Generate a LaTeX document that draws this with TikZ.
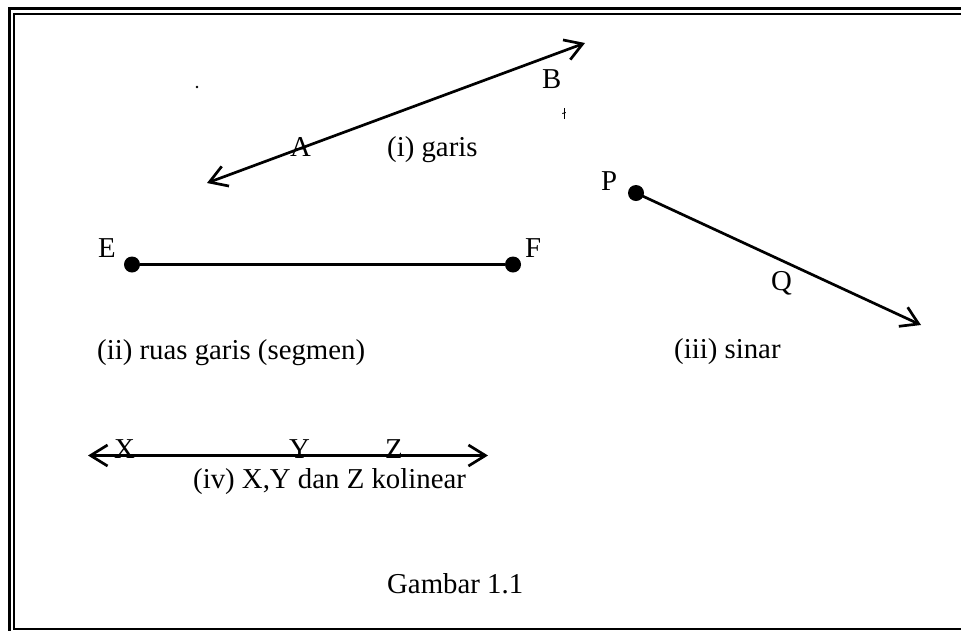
\documentclass[tikz,border=0pt]{standalone}
\usepackage{fontspec}
\setmainfont{Liberation Serif}
\usetikzlibrary{arrows.meta}
\begin{document}
\begin{tikzpicture}[x=1pt,y=-1pt,
  lbl/.style={anchor=base west, inner sep=0pt, font=\fontsize{28.8}{33}\selectfont},
  ln/.style={line width=2.7pt},
  dotnode/.style={circle, fill=black, inner sep=0pt, minimum size=16pt},
  frameouter/.style={line width=2.6pt},
  frameinner/.style={line width=2pt}]
\useasboundingbox (0,0) rectangle (961,630);
\clip (0,0) rectangle (961,630);
% frame
\draw[frameouter] (9.7,640) -- (9.7,8.5) -- (975,8.5);
\draw[frameinner] (975,628.7) -- (14.3,628.7) -- (14.3,13.8) -- (975,13.8);
% stray dot and tick
\fill (197,87) circle (1.4pt);
\coordinate (t1) at (564,108);
\coordinate (t2) at (564,119);
\draw[line width=0.9pt] (t1) -- (t2);
\draw[line width=0.9pt] (562.3,113.5) -- (565.7,112.5);
% (i) garis
\coordinate (i1) at (207,183);
\coordinate (i2) at (585,43);
\draw[ln, {Straight Barb[length=17pt,width=21pt]}-{Straight Barb[length=17pt,width=21pt]}] (i1) -- (i2);
\node[lbl] (A) at (290,156) {A};
\node[lbl] (B) at (542,88) {B};
\node[lbl] (cap1) at (387,156) {(i) garis};
% (ii) segmen
\node[dotnode] (Ed) at (132,264.5) {};
\node[dotnode] (Fd) at (513,264.5) {};
\draw[line width=2.2pt] (Ed) -- (Fd);
\node[lbl] (E) at (98,257) {E};
\node[lbl] (F) at (525,257) {F};
\node[lbl] (cap2) at (97,359) {(ii) ruas garis (segmen)};
% (iii) sinar
\node[dotnode] (Pd) at (636,193) {};
\coordinate (rayend) at (921,325);
\draw[ln, -{Straight Barb[length=17pt,width=21pt]}] (Pd.center) -- (rayend);
\node[lbl] (P) at (601,190) {P};
\node[lbl] (Q) at (771,290) {Q};
\node[lbl] (cap3) at (674,358) {(iii) sinar};
% (iv) kolinear
\coordinate (k1) at (88,455.5);
\coordinate (k2) at (488,455.5);
\draw[ln, {Straight Barb[length=17pt,width=21pt]}-{Straight Barb[length=17pt,width=21pt]}] (k1) -- (k2);
\node[lbl] (X) at (114,458) {X};
\node[lbl] (Y) at (289,458) {Y};
\node[lbl] (Z) at (385,458) {Z};
\node[lbl] (cap4) at (193,488) {(iv) X,Y dan Z kolinear};
% caption
\node[lbl] (cap) at (387,593) {Gambar 1.1};
\end{tikzpicture}
\end{document}
